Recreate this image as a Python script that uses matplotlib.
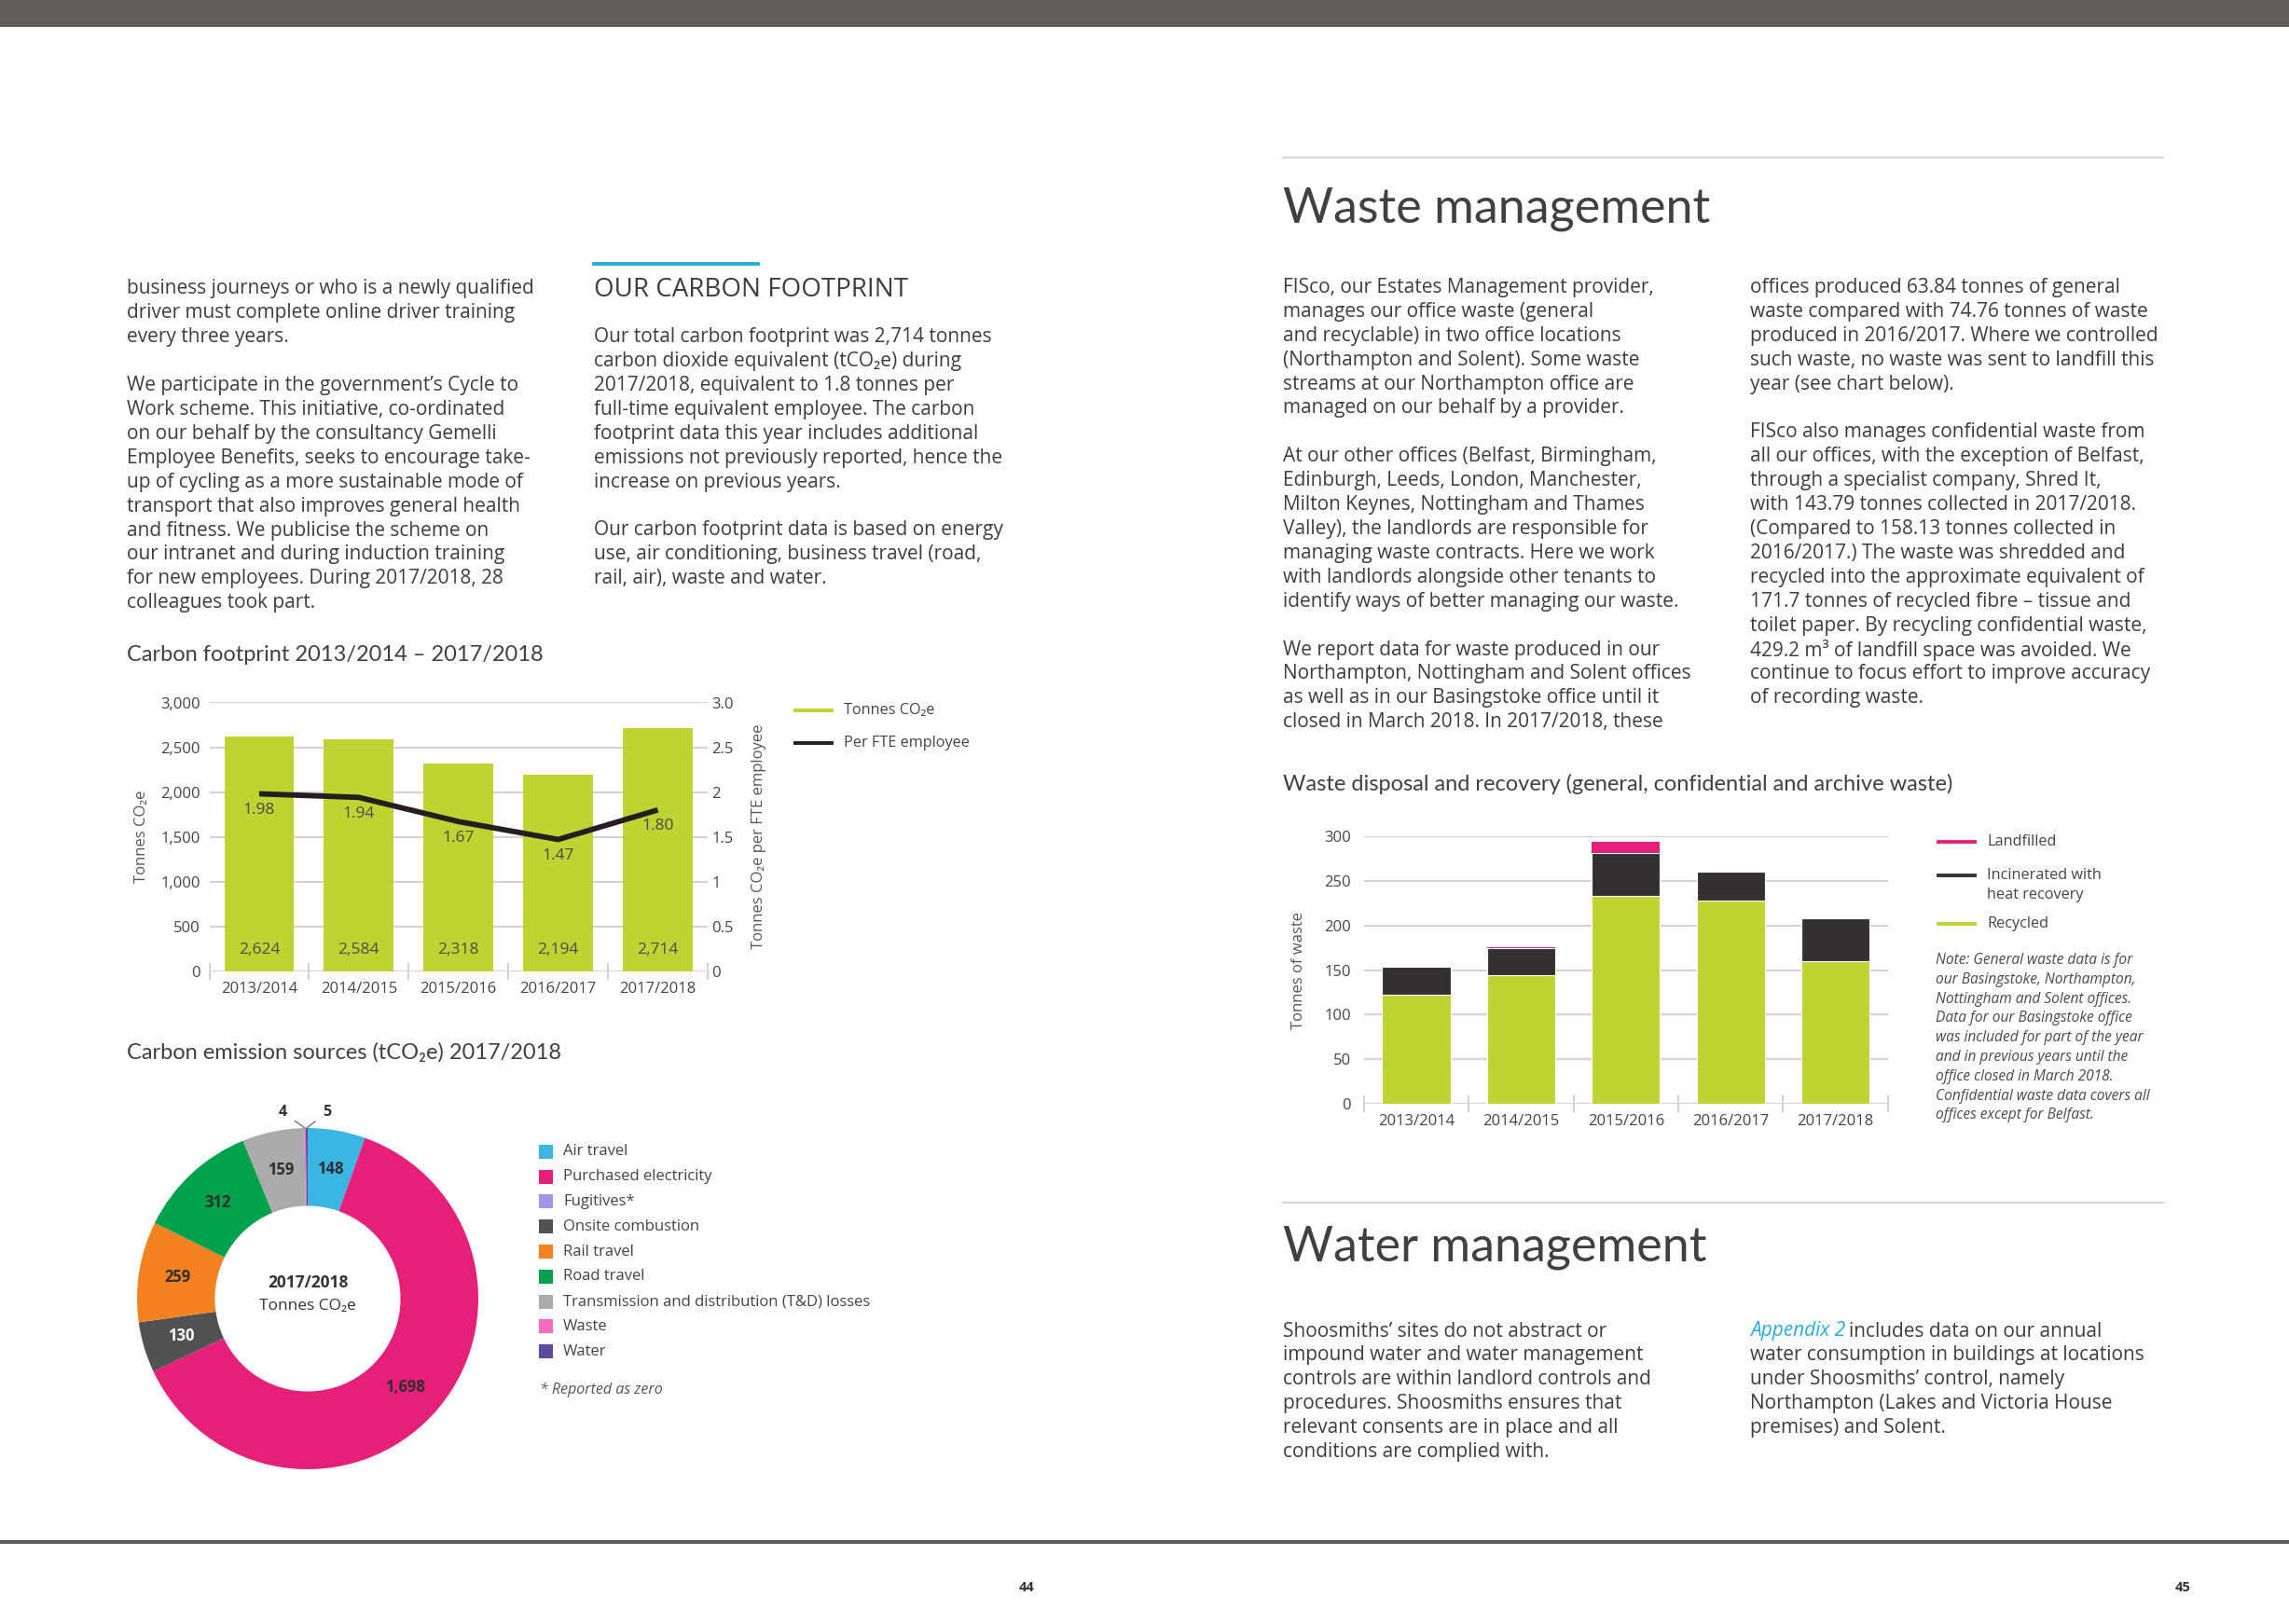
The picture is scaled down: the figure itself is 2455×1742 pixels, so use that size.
import matplotlib
matplotlib.use('Agg')
import matplotlib.pyplot as plt
import numpy as np
from matplotlib.patches import Rectangle
from matplotlib.lines import Line2D

W, H = 2455, 1742
plt.rcParams['font.family'] = ['Open Sans', 'DejaVu Sans']

# ---------------- data ----------------
years = ['2013/2014', '2014/2015', '2015/2016', '2016/2017', '2017/2018']

carbon_tonnes = [2624, 2584, 2318, 2194, 2714]
carbon_tonnes_labels = ['2,624', '2,584', '2,318', '2,194', '2,714']
carbon_per_fte = [1.98, 1.94, 1.67, 1.47, 1.80]
carbon_left_ticks = [0, 500, 1000, 1500, 2000, 2500, 3000]
carbon_left_labels = ['0', '500', '1,000', '1,500', '2,000', '2,500', '3,000']
carbon_right_ticks = [0, 0.5, 1, 1.5, 2, 2.5, 3]
carbon_right_labels = ['0', '0.5', '1', '1.5', '2', '2.5', '3.0']

source_names = ['Air travel', 'Purchased electricity', 'Fugitives*', 'Onsite combustion',
                'Rail travel', 'Road travel', 'Transmission and distribution (T&D) losses',
                'Waste', 'Water']
source_values = [148, 1698, 0, 130, 259, 312, 159, 4, 5]
source_labels = ['148', '1,698', '', '130', '259', '312', '159', '4', '5']
source_colors = ['#3bb5e3', '#e61f78', '#a594e6', '#525252', '#f58220', '#00a14b',
                 '#ababab', '#f46cbf', '#5b4b9e']

waste_recycled = [122, 144, 232.5, 227.5, 159.5]
waste_incinerated = [32, 30, 48, 33, 48]
waste_landfilled = [0, 1.4, 12.8, 0, 0]
waste_ticks = [0, 50, 100, 150, 200, 250, 300]

GREEN = '#bdd432'
BLACK = '#2b2a2b'
PINK = '#e61f78'
TXT = '#3d3d3d'
GRID = '#d4d4d4'
BODY = 15

fig = plt.figure(figsize=(W / 100, H / 100), dpi=100)
fig.patch.set_facecolor('white')


def fx(x):
    return x / W


def fy(y):
    return 1 - y / H


def txt(x, y, s, **kw):
    kw.setdefault('color', TXT)
    return fig.text(fx(x), fy(y), s, **kw)


def ax_at(l, t, r, b):
    return fig.add_axes([fx(l), fy(b), (r - l) / W, (b - t) / H])


def para(x, y0, dy, lines, size=BODY, **kw):
    for i, ln in enumerate(lines):
        if ln:
            txt(x, y0 + i * dy, ln, va='center', ha='left', fontsize=size, **kw)


# ---------------- page furniture ----------------
fig.add_artist(Rectangle((0, fy(29)), 1, 29 / H, transform=fig.transFigure,
                         color='#615d5b', lw=0))
fig.add_artist(Rectangle((0, fy(1656)), 1, 4 / H, transform=fig.transFigure,
                         color='#5f5b59', lw=0))
txt(1101, 1703, '44', fontsize=10.5, fontweight='bold', ha='center', va='center', color='#333')
txt(2341, 1703, '45', fontsize=10.5, fontweight='bold', ha='center', va='center', color='#333')

DY = 25.9
LH = ['Lato', 'DejaVu Sans']

# left page column 1
para(136, 310, DY, [
    'business journeys or who is a newly qualified',
    'driver must complete online driver training',
    'every three years.',
    '',
    'We participate in the government’s Cycle to',
    'Work scheme. This initiative, co-ordinated',
    'on our behalf by the consultancy Gemelli',
    'Employee Benefits, seeks to encourage take-',
    'up of cycling as a more sustainable mode of',
    'transport that also improves general health',
    'and fitness. We publicise the scheme on',
    'our intranet and during induction training',
    'for new employees. During 2017/2018, 28',
    'colleagues took part.'])

# left page column 2
fig.add_artist(Line2D([fx(637), fx(813)], [fy(283), fy(283)], transform=fig.transFigure,
                      color='#29abe2', lw=2.8))
txt(637, 311, 'OUR CARBON FOOTPRINT', fontsize=20, va='center', ha='left')
para(637, 361.7, DY, [
    'Our total carbon footprint was 2,714 tonnes',
    'carbon dioxide equivalent (tCO₂e) during',
    '2017/2018, equivalent to 1.8 tonnes per',
    'full-time equivalent employee. The carbon',
    'footprint data this year includes additional',
    'emissions not previously reported, hence the',
    'increase on previous years.',
    '',
    'Our carbon footprint data is based on energy',
    'use, air conditioning, business travel (road,',
    'rail, air), waste and water.'])

# right page
fig.add_artist(Line2D([fx(1376), fx(2320)], [fy(169), fy(169)], transform=fig.transFigure,
                      color='#d6d6d6', lw=1.6))
txt(1376, 238, 'Waste management', fontsize=37.5, family=LH, va='baseline', ha='left', color='#404040')
para(1376, 308.5, DY, [
    'FISco, our Estates Management provider,',
    'manages our office waste (general',
    'and recyclable) in two office locations',
    '(Northampton and Solent). Some waste',
    'streams at our Northampton office are',
    'managed on our behalf by a provider.',
    '',
    'At our other offices (Belfast, Birmingham,',
    'Edinburgh, Leeds, London, Manchester,',
    'Milton Keynes, Nottingham and Thames',
    'Valley), the landlords are responsible for',
    'managing waste contracts. Here we work',
    'with landlords alongside other tenants to',
    'identify ways of better managing our waste.',
    '',
    'We report data for waste produced in our',
    'Northampton, Nottingham and Solent offices',
    'as well as in our Basingstoke office until it',
    'closed in March 2018. In 2017/2018, these'])
para(1877, 308.5, DY, [
    'offices produced 63.84 tonnes of general',
    'waste compared with 74.76 tonnes of waste',
    'produced in 2016/2017. Where we controlled',
    'such waste, no waste was sent to landfill this',
    'year (see chart below).',
    '',
    'FISco also manages confidential waste from',
    'all our offices, with the exception of Belfast,',
    'through a specialist company, Shred It,',
    'with 143.79 tonnes collected in 2017/2018.',
    '(Compared to 158.13 tonnes collected in',
    '2016/2017.) The waste was shredded and',
    'recycled into the approximate equivalent of',
    '171.7 tonnes of recycled fibre – tissue and',
    'toilet paper. By recycling confidential waste,',
    '429.2 m³ of landfill space was avoided. We',
    'continue to focus effort to improve accuracy',
    'of recording waste.'])

fig.add_artist(Line2D([fx(1376), fx(2320)], [fy(1290), fy(1290)], transform=fig.transFigure,
                      color='#d6d6d6', lw=1.6))
txt(1376, 1353, 'Water management', fontsize=37.5, family=LH, va='baseline', ha='left', color='#404040')
para(1376, 1428, DY, [
    'Shoosmiths’ sites do not abstract or',
    'impound water and water management',
    'controls are within landlord controls and',
    'procedures. Shoosmiths ensures that',
    'relevant consents are in place and all',
    'conditions are complied with.'])
t_app = txt(1877, 1428, 'Appendix 2', fontsize=BODY, style='italic', color='#29abe2',
            va='center', ha='left')
renderer = fig.canvas.get_renderer()
bb = t_app.get_window_extent(renderer)
txt(bb.x1 + 4, 1428, 'includes data on our annual', fontsize=BODY, va='center', ha='left')
para(1877, 1428, DY, [
    '',
    'water consumption in buildings at locations',
    'under Shoosmiths’ control, namely',
    'Northampton (Lakes and Victoria House',
    'premises) and Solent.'])

# ---------------- chart 1: carbon footprint ----------------
txt(136, 709, 'Carbon footprint 2013/2014 – 2017/2018', fontsize=17, family=LH,
    va='baseline', ha='left', color='#404040')
ax1 = ax_at(224.5, 753.5, 759, 1041.7)
x = np.arange(len(years))
ax1.bar(x, carbon_tonnes, width=0.7, color=GREEN, zorder=2)
ax1.set_xlim(-0.5, 4.5)
ax1.set_ylim(0, 3000)
ax1.set_yticks(carbon_left_ticks)
ax1.set_yticklabels(carbon_left_labels)
ax1.yaxis.grid(True, color=GRID, lw=1.6, zorder=0)
ax1.set_axisbelow(True)
for s in ax1.spines.values():
    s.set_visible(False)
ax1.set_xticks(x)
ax1.set_xticklabels(years)
ax1.set_xticks(np.arange(-0.5, 5, 1), minor=True)
ax1.tick_params(axis='x', which='major', length=0, pad=8, labelsize=12, labelcolor='#444')
ax1.tick_params(axis='x', which='minor', length=13, direction='inout', color='#c8c8c8', width=1.2)
ax1.tick_params(axis='y', length=0, pad=7, labelsize=12, labelcolor='#444')
ax1.set_ylabel('Tonnes CO₂e', fontsize=12, color='#555', labelpad=9)
for i, (v, lab) in enumerate(zip(carbon_tonnes, carbon_tonnes_labels)):
    ax1.text(i, 233, lab, ha='center', va='center', fontsize=12.5, color='#4a4a4a', zorder=3)

ax1b = ax1.twinx()
ax1b.set_ylim(0, 3)
ax1b.plot(x, carbon_per_fte, color='#231f20', lw=4.2, solid_capstyle='butt', zorder=4)
ax1b.set_yticks(carbon_right_ticks)
ax1b.set_yticklabels(carbon_right_labels)
ax1b.tick_params(axis='y', length=0, pad=3, labelsize=12, labelcolor='#444')
for s in ax1b.spines.values():
    s.set_visible(False)
ax1b.set_ylabel('Tonnes CO₂e per FTE employee', fontsize=12, color='#555', labelpad=14)
for i, v in enumerate(carbon_per_fte):
    ax1b.annotate(f'{v:.2f}', (i, v), xytext=(0, -12.5), textcoords='offset points',
                  ha='center', va='center', fontsize=12.5, color='#4a4a4a')

# legend chart 1
for yy, col, lab in [(762, GREEN, 'Tonnes CO₂e'), (797, '#231f20', 'Per FTE employee')]:
    fig.add_artist(Line2D([fx(853), fx(892)], [fy(yy), fy(yy)], transform=fig.transFigure,
                          color=col, lw=2.8))
    txt(905, yy, lab, fontsize=11.7, va='center', ha='left', color='#444')

# ---------------- chart 2: donut ----------------
txt(136, 1136, 'Carbon emission sources (tCO₂e) 2017/2018', fontsize=17, family=LH,
    va='baseline', ha='left', color='#404040')
R_PX = 183.0
half = 240
cx, cy = 330, 1393
ax2 = ax_at(cx - half, cy - half, cx + half, cy + half)
lim = half / R_PX
ax2.set_aspect('equal')
ax2.axis('off')
WIDTH = 0.456
wedges, _ = ax2.pie(source_values, colors=source_colors, startangle=90, counterclock=False,
                    radius=1.0, wedgeprops=dict(width=WIDTH, edgecolor='none'))
ax2.set_xlim(-lim, lim)
ax2.set_ylim(-lim, lim)
total = float(sum(source_values))
cum = 0.0
rmid = 1 - WIDTH / 2
for val, lab, col in zip(source_values, source_labels, source_colors):
    a0 = 90 - cum / total * 360
    a1 = 90 - (cum + val) / total * 360
    mid = np.deg2rad((a0 + a1) / 2)
    cum += val
    if not lab:
        continue
    if val < 20:
        px, py = np.cos(mid), np.sin(mid)
        dx = -0.13 if lab == '4' else 0.12
        ax2.annotate(lab, (px, py), xytext=(px + dx, 1.093), textcoords='data',
                     ha='center', va='center', fontsize=11.5, fontweight='bold', color='#333',
                     arrowprops=dict(arrowstyle='-', color='#666', lw=0.9, shrinkA=5, shrinkB=0))
    else:
        tc = 'white' if col == '#525252' else '#2f2f2f'
        ax2.text(rmid * np.cos(mid), rmid * np.sin(mid), lab, ha='center', va='center',
                 fontsize=12, fontweight='bold', color=tc)
ax2.text(0, 0.093, '2017/2018', ha='center', va='center', fontsize=12.5, fontweight='bold', color='#333')
ax2.text(0, -0.044, 'Tonnes CO₂e', ha='center', va='center', fontsize=12.5, color='#333')

# donut legend
for i, (name, col) in enumerate(zip(source_names, source_colors)):
    yy = 1235.3 + i * 26.8
    fig.add_artist(Rectangle((fx(578), fy(yy + 7.5)), 15 / W, 15 / H, transform=fig.transFigure,
                             color=col, lw=0))
    txt(604, yy, name, fontsize=12, va='center', ha='left', color='#444')
txt(579, 1490.6, '* Reported as zero', fontsize=11.5, style='italic', va='center', ha='left', color='#555')

# ---------------- chart 3: waste ----------------
txt(1376, 848, 'Waste disposal and recovery (general, confidential and archive waste)', fontsize=17,
    family=LH, va='baseline', ha='left', color='#404040')
ax3 = ax_at(1462.8, 896.7, 2024.7, 1184.3)
bw = 0.65
ax3.bar(x, waste_recycled, width=bw, color=GREEN, edgecolor='white', lw=0.8, zorder=2)
bot2 = np.array(waste_recycled)
ax3.bar(x, waste_incinerated, width=bw, bottom=bot2, color='#333132', edgecolor='white', lw=0.8, zorder=2)
bot3 = bot2 + np.array(waste_incinerated)
ax3.bar(x, waste_landfilled, width=bw, bottom=bot3, color=PINK, edgecolor='none', zorder=2)
ax3.set_xlim(-0.5, 4.5)
ax3.set_ylim(0, 300)
ax3.set_yticks(waste_ticks)
ax3.yaxis.grid(True, color=GRID, lw=1.6, zorder=0)
ax3.set_axisbelow(True)
for s in ax3.spines.values():
    s.set_visible(False)
ax3.set_xticks(x)
ax3.set_xticklabels(years)
ax3.set_xticks(np.arange(-0.5, 5, 1), minor=True)
ax3.tick_params(axis='x', which='major', length=0, pad=8, labelsize=12, labelcolor='#444')
ax3.tick_params(axis='x', which='minor', length=13, direction='inout', color='#c8c8c8', width=1.2)
ax3.tick_params(axis='y', length=0, pad=10, labelsize=12, labelcolor='#444')
ax3.set_ylabel('Tonnes of waste', fontsize=12, color='#555', labelpad=14)

# waste legend
for yy, col in [(903, PINK), (939, '#333132'), (991, GREEN)]:
    fig.add_artist(Line2D([fx(2079), fx(2118)], [fy(yy), fy(yy)], transform=fig.transFigure,
                          color=col, lw=2.8))
txt(2131, 903, 'Landfilled', fontsize=11.7, va='center', ha='left', color='#444')
txt(2131, 939, 'Incinerated with', fontsize=11.7, va='center', ha='left', color='#444')
txt(2131, 960, 'heat recovery', fontsize=11.7, va='center', ha='left', color='#444')
txt(2131, 991, 'Recycled', fontsize=11.7, va='center', ha='left', color='#444')
note_lines = ['Note: General waste data is for',
              'our Basingstoke, Northampton,',
              'Nottingham and Solent offices.',
              'Data for our Basingstoke office',
              'was included for part of the year',
              'and in previous years until the',
              'office closed in March 2018.',
              'Confidential waste data covers all',
              'offices except for Belfast.']
for i, ln in enumerate(note_lines):
    txt(2076, 1030 + i * 20.8, ln, fontsize=11.2, style='italic', va='center', ha='left', color='#4a4a4a')

fig.savefig('out.png', dpi=100, facecolor='white')
